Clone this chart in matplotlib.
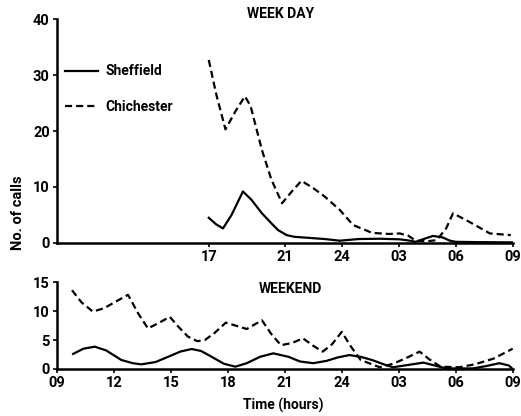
import numpy as np
import matplotlib.pyplot as plt

# week day (hours after midnight, 24+ = next morning)
wd_hours_chi = [17.0, 17.4, 17.88, 18.4, 18.9, 19.2, 19.8, 20.3, 20.86, 21.4, 21.88, 22.5, 23.1, 23.9,
                24.6, 25.6, 26.5, 27.05, 27.5, 27.9, 28.5, 29.0, 29.5, 29.86, 30.7, 31.8, 32.9]
wd_chi = [32.7, 26.5, 20.3, 23.5, 26.2, 24.5, 16.6, 11.3, 7.1, 9.3, 11.1, 9.8, 8.3, 5.9,
          3.2, 1.8, 1.6, 1.7, 1.3, 0.4, 0.3, 0.5, 2.6, 5.3, 3.8, 1.7, 1.4]
wd_hours_shf = [17.0, 17.4, 17.75, 18.2, 18.8, 19.25, 19.8, 20.3, 20.65, 21.1, 21.5, 22.3, 23.1, 23.9,
                24.9, 26.0, 27.05, 27.5, 27.9, 28.4, 28.8, 29.3, 29.7, 30.0, 31.0, 33.0]
wd_shf = [4.5, 3.3, 2.6, 5.0, 9.2, 7.7, 5.3, 3.5, 2.3, 1.4, 1.1, 0.9, 0.7, 0.4,
          0.7, 0.75, 0.65, 0.45, 0.2, 0.8, 1.25, 1.0, 0.4, 0.2, 0.15, 0.1]

# weekend
we_hours_chi = [9.8, 10.3, 10.9, 11.5, 12.2, 12.75, 13.3, 13.8, 14.4, 14.95, 15.4, 15.9, 16.4, 16.8,
                17.3, 17.9, 18.4, 19.0, 19.8, 20.3, 20.8, 21.4, 21.96, 22.5, 23.0, 23.5, 24.0, 24.5,
                25.0, 26.0, 26.7, 27.4, 28.1, 28.6, 29.2, 30.2, 31.0, 32.0, 33.0]
we_chi = [13.6, 11.5, 9.9, 10.5, 11.8, 12.8, 9.5, 7.0, 8.0, 9.0, 7.3, 5.6, 4.8, 5.0,
          6.2, 8.0, 7.5, 6.9, 8.4, 6.0, 4.1, 4.5, 5.3, 4.0, 3.0, 4.3, 6.4, 3.8,
          1.55, 0.3, 0.9, 1.9, 3.0, 1.7, 0.4, 0.3, 0.8, 1.8, 3.5]
we_hours_shf = [9.86, 10.4, 11.0, 11.6, 12.4, 13.0, 13.45, 14.2, 14.86, 15.5, 16.1, 16.6, 17.1, 17.8,
                18.4, 19.0, 19.7, 20.4, 21.2, 21.8, 22.5, 23.2, 23.8, 24.4, 25.0, 25.6, 26.3, 26.7,
                27.5, 28.3, 28.9, 29.5, 30.9, 31.6, 32.3, 32.8, 33.0]
we_shf = [2.6, 3.5, 3.85, 3.2, 1.55, 1.0, 0.8, 1.2, 2.1, 3.0, 3.45, 3.1, 2.2, 0.9,
          0.4, 1.0, 2.1, 2.7, 2.1, 1.3, 1.0, 1.4, 2.0, 2.4, 2.1, 1.55, 0.7, 0.3,
          0.7, 1.1, 0.6, 0.1, 0.1, 0.5, 1.0, 0.6, 0.0]

wd_ticks = [17, 21, 24, 27, 30, 33]
wd_ticklabels = ["17", "21", "24", "03", "06", "09"]
we_ticks = [9, 12, 15, 18, 21, 24, 27, 30, 33]
we_ticklabels = ["09", "12", "15", "18", "21", "24", "03", "06", "09"]

plt.rcParams['font.family'] = ['Liberation Sans Narrow', 'Roboto', 'DejaVu Sans']
plt.rcParams['font.weight'] = 'bold'

fig = plt.figure(figsize=(5.21, 4.16), dpi=100)
ax1 = fig.add_axes([0.109, 0.416, 0.875, 0.538])
ax2 = fig.add_axes([0.109, 0.113, 0.875, 0.209])

dash = (0, (3.2, 1.8))
ax1.plot(wd_hours_shf, wd_shf, color="black", lw=1.6, label="Sheffield")
ax1.plot(wd_hours_chi, wd_chi, color="black", lw=1.6, ls=dash, label="Chichester")
ax2.plot(we_hours_shf, we_shf, color="black", lw=1.6)
ax2.plot(we_hours_chi, we_chi, color="black", lw=1.6, ls=dash)

for ax in (ax1, ax2):
    ax.set_xlim(9, 33)
    for s in ("top", "right"):
        ax.spines[s].set_visible(False)
    for s in ("left", "bottom"):
        ax.spines[s].set_linewidth(1.8)
    ax.tick_params(length=3, width=1.2, labelsize=10.5, pad=2)

ax1.set_ylim(0, 40)
ax1.set_yticks([0, 10, 20, 30, 40])
ax1.set_xticks(wd_ticks)
ax1.set_xticklabels(wd_ticklabels)
ax2.set_ylim(0, 15)
ax2.set_yticks([0, 5, 10, 15])
ax2.set_xticks(we_ticks)
ax2.set_xticklabels(we_ticklabels)

ax1.legend(loc="upper left", bbox_to_anchor=(0.0, 0.835), frameon=False, fontsize=10,
           handlelength=2.4, labelspacing=1.55, handletextpad=0.5, borderaxespad=0.2)

fig.text(281/521, 1 - 14/416, "WEEK DAY", ha="center", va="center", fontsize=10)
fig.text(290/521, 1 - 289/416, "WEEKEND", ha="center", va="center", fontsize=10)
fig.text(18/521, 1 - 213/416, "No. of calls", rotation=90, ha="center", va="center", fontsize=10.5)
fig.text(283/521, 1 - 405/416, "Time (hours)", ha="center", va="center", fontsize=10)

fig.savefig("out.png", dpi=100)
